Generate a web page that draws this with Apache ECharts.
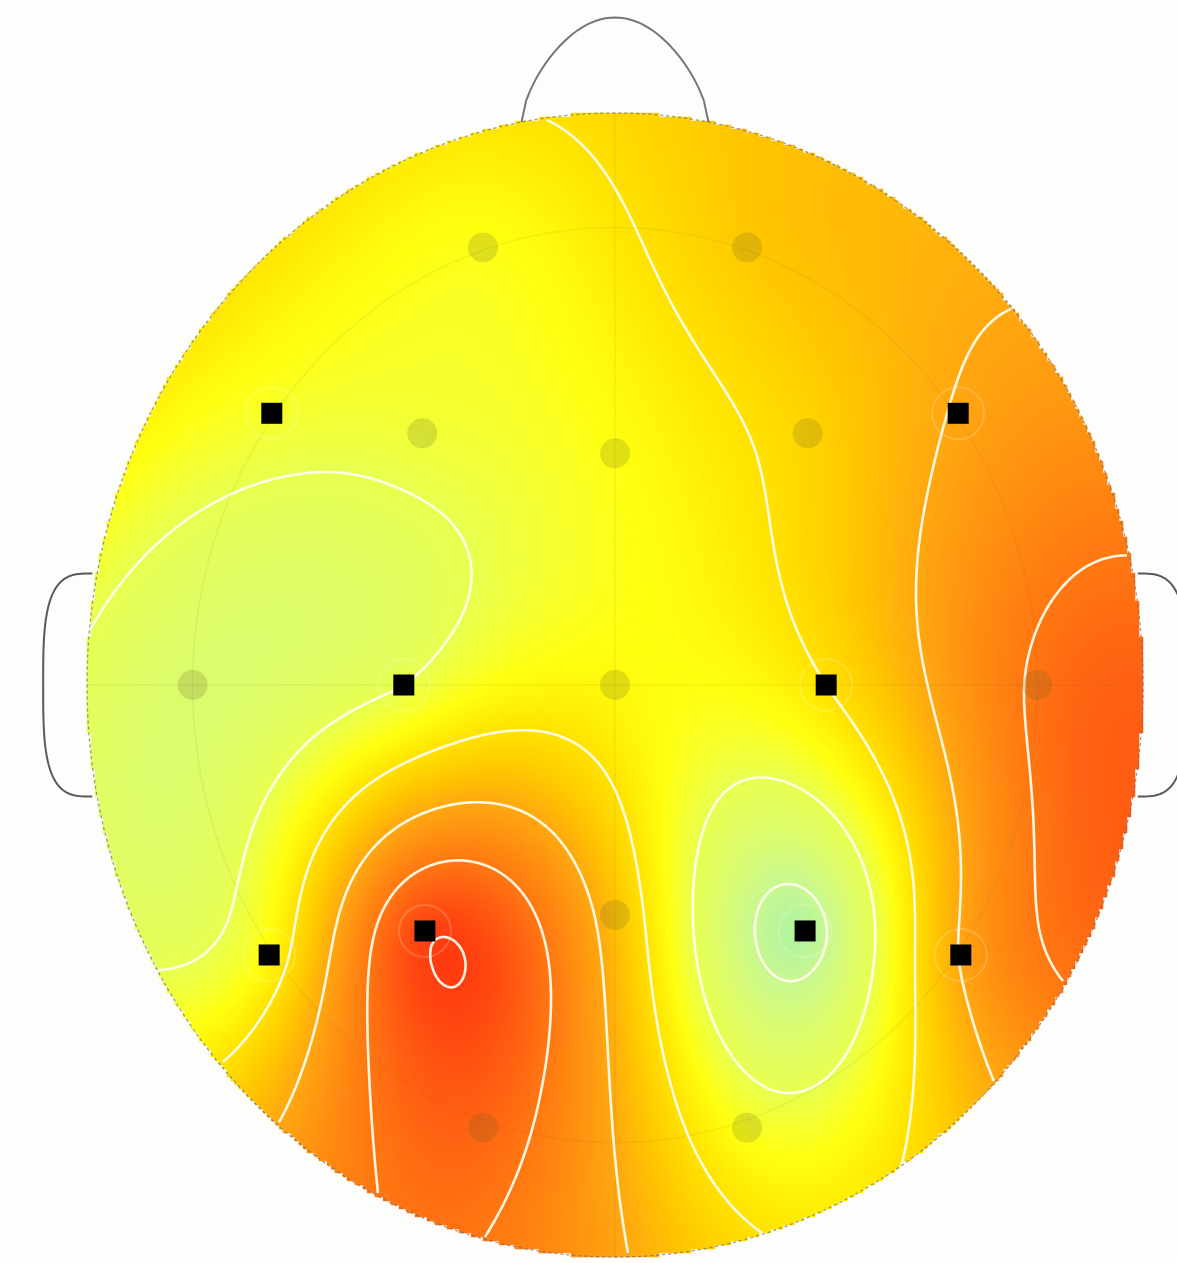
<!DOCTYPE html>
<html>
<head>
<meta charset="utf-8">
<title>EEG topography</title>
<script src="https://cdn.jsdelivr.net/npm/echarts@6/dist/echarts.min.js"></script>
<style>
  html, body { margin: 0; padding: 0; background: #fdfdfb; }
  #main { width: 1177px; height: 1263px; }
</style>
</head>
<body>
<div id="main"></div>
<script>
// 10-20 montage: channel names, projected positions (head radius = 1, nose up)
const channels = ['Fp1', 'Fp2', 'F7', 'F3', 'Fz', 'F4', 'F8', 'T3', 'C3', 'Cz', 'C4', 'T4', 'T5', 'P3', 'Pz', 'P4', 'T6', 'O1', 'O2'];
const posX = [-0.25, 0.25, -0.65, -0.365, 0, 0.365, 0.65, -0.80, -0.40, 0, 0.40, 0.80, -0.655, -0.36, 0, 0.36, 0.655, -0.25, 0.25];
const posY = [0.765, 0.765, 0.475, 0.44, 0.405, 0.44, 0.475, 0, 0, 0, 0, 0, -0.472, -0.43, -0.402, -0.43, -0.472, -0.774, -0.774];
// channel values
const values = [0.45, 1.45, 0.3, 0.2, 0.5, 1.25, 2.05, -0.5, 0.0, 0.6, 1.0, 3.1, 0.6, 3.9, 1.6, -1.25, 2.05, 3.35, 0.4];
// channels flagged as significant (drawn as black squares)
const significant = ['F7', 'F8', 'C3', 'C4', 'T5', 'P3', 'P4', 'T6'];
// isolines
const contourLevels = [-1, 0, 1, 2, 3, 4];
// colour scale, evenly spaced from scaleMin to scaleMax
const scaleMin = -1.5, scaleMax = 4.5;
const palette = ['#a4f0a8', '#c8f890', '#dcfc6c', '#e8ff50', '#ffff10', '#ffe200', '#ffc600',
                 '#ffa810', '#ff9010', '#ff7812', '#ff5c12', '#ff3e10', '#ff2010'];

// ---- layout of the head on the page (pixels) ----
const W = 1177, H = 1263;
const CX = 615, CY = 685, RX = 528, RY = 572;
const xMin = -CX / RX, xMax = (W - CX) / RX;
const yMin = -(H - CY) / RY, yMax = CY / RY;

// ---- biharmonic spline through the channel values ----
const n = channels.length;
function green(d) { return d > 1e-12 ? d * d * (Math.log(d) - 1) : 0; }
const sys = [];
for (let i = 0; i < n; i++) {
  const row = [];
  for (let j = 0; j < n; j++) row.push(green(Math.hypot(posX[i] - posX[j], posY[i] - posY[j])));
  row.push(values[i]);
  sys.push(row);
}
for (let c = 0; c < n; c++) {
  let p = c;
  for (let r = c + 1; r < n; r++) if (Math.abs(sys[r][c]) > Math.abs(sys[p][c])) p = r;
  const tmp = sys[c]; sys[c] = sys[p]; sys[p] = tmp;
  for (let r = 0; r < n; r++) {
    if (r === c) continue;
    const f = sys[r][c] / sys[c][c];
    for (let k = c; k <= n; k++) sys[r][k] -= f * sys[c][k];
  }
}
const weights = sys.map((row, i) => row[n] / row[i]);
function field(x, y) {
  let s = 0;
  for (let k = 0; k < n; k++) s += weights[k] * green(Math.hypot(x - posX[k], y - posY[k]));
  return s;
}

// ---- sample the field on a regular lattice covering the head (4 px cells) ----
const NX = 264, NY = 286;
const dx = 2 / NX, dy = 2 / NY;
const nodes = [];
for (let j = 0; j <= NY; j++) {
  const row = [];
  for (let i = 0; i <= NX; i++) row.push(field(-1 + i * dx, -1 + j * dy));
  nodes.push(row);
}
const colIdx = Array.from({ length: NX }, (_, i) => i);
const rowIdx = Array.from({ length: NY }, (_, j) => j);
const cells = [];
for (let j = 0; j < NY; j++) {
  const y = -1 + (j + 0.5) * dy;
  for (let i = 0; i < NX; i++) {
    const x = -1 + (i + 0.5) * dx;
    if (x * x + y * y > 1) continue;
    let v = (nodes[j][i] + nodes[j][i + 1] + nodes[j + 1][i] + nodes[j + 1][i + 1]) / 4;
    v = Math.max(scaleMin, Math.min(scaleMax, v));
    cells.push([i, j, v]);
  }
}

// ---- isolines by marching squares, stitched into polylines ----
function contourPaths(level) {
  const pts = new Map();
  const adj = new Map();
  function edgePoint(key, xa, ya, va, xb, yb, vb) {
    if (!pts.has(key)) {
      const t = (level - va) / (vb - va);
      pts.set(key, [xa + (xb - xa) * t, ya + (yb - ya) * t]);
    }
    return key;
  }
  function inside(k) { const p = pts.get(k); return p[0] * p[0] + p[1] * p[1] <= 1.0; }
  function link(a, b) {
    if (!inside(a) || !inside(b)) return;
    if (!adj.has(a)) adj.set(a, []);
    if (!adj.has(b)) adj.set(b, []);
    adj.get(a).push(b); adj.get(b).push(a);
  }
  for (let j = 0; j < NY; j++) {
    for (let i = 0; i < NX; i++) {
      const x0 = -1 + i * dx, x1 = x0 + dx, y0 = -1 + j * dy, y1 = y0 + dy;
      const v0 = nodes[j][i], v1 = nodes[j][i + 1], v2 = nodes[j + 1][i + 1], v3 = nodes[j + 1][i];
      const s0 = v0 >= level, s1 = v1 >= level, s2 = v2 >= level, s3 = v3 >= level;
      const k0 = s0 !== s1 ? edgePoint('h' + i + '_' + j, x0, y0, v0, x1, y0, v1) : null;
      const k1 = s1 !== s2 ? edgePoint('v' + (i + 1) + '_' + j, x1, y0, v1, x1, y1, v2) : null;
      const k2 = s3 !== s2 ? edgePoint('h' + i + '_' + (j + 1), x0, y1, v3, x1, y1, v2) : null;
      const k3 = s0 !== s3 ? edgePoint('v' + i + '_' + j, x0, y0, v0, x0, y1, v3) : null;
      const ks = [k0, k1, k2, k3].filter(k => k);
      if (ks.length === 2) link(ks[0], ks[1]);
      else if (ks.length === 4) {
        const sc = (v0 + v1 + v2 + v3) / 4 >= level;
        if (sc === s0) { link(k0, k1); link(k2, k3); }
        else { link(k3, k0); link(k1, k2); }
      }
    }
  }
  const visited = new Set();
  const paths = [];
  function walk(start) {
    const path = [start];
    visited.add(start);
    let prev = null, cur = start;
    for (;;) {
      const nbs = adj.get(cur) || [];
      const nb = nbs.find(k => k !== prev && !visited.has(k));
      if (!nb) {
        if (path.length > 2 && nbs.includes(start)) path.push(start);
        break;
      }
      visited.add(nb); path.push(nb); prev = cur; cur = nb;
    }
    return path.map(k => pts.get(k));
  }
  for (const [k, a] of adj) if (a.length === 1 && !visited.has(k)) paths.push(walk(k));
  for (const k of adj.keys()) if (!visited.has(k)) paths.push(walk(k));
  return paths.filter(p => p.length > 2);
}
const isolines = [];
contourLevels.forEach(lv => contourPaths(lv).forEach(p => isolines.push({ coords: p })));

// ---- head drawing: scalp outline, nose, ears, reference circle ----
function circlePts(r, steps) {
  const out = [];
  for (let s = 0; s <= steps; s++) {
    const t = (s / steps) * Math.PI * 2;
    out.push([r * Math.cos(t), r * Math.sin(t)]);
  }
  return out;
}
const scalp = circlePts(1, 360);
const refCircle = circlePts(0.8, 360);
const nose = [];
for (let s = 0; s <= 40; s++) {
  const u = s / 20 - 1;
  const x = 0.177 * u;
  nose.push([x, Math.sqrt(1 - x * x) + 0.167 * Math.pow(Math.cos(u * Math.PI / 2), 0.6)]);
}
function ear(side) {
  const out = [];
  for (let s = 0; s <= 80; s++) {
    const t = Math.PI / 2 + (s / 80) * Math.PI;
    const c = Math.cos(t), sn = Math.sin(t);
    const ex = -0.99 - 0.093 * Math.pow(Math.abs(c), 0.6);
    const ey = 0.195 * Math.sign(sn) * Math.pow(Math.abs(sn), 0.6);
    out.push([side * ex, ey]);
  }
  return out;
}

const greyDots = [], blackSquares = [];
channels.forEach((c, i) => {
  (significant.includes(c) ? blackSquares : greyDots).push({ name: c, value: [posX[i], posY[i]] });
});

function lineSeries(data, style, z) {
  return {
    type: 'line', xAxisIndex: 1, yAxisIndex: 1, data: data, showSymbol: false, symbol: 'none',
    lineStyle: style, z: z, silent: true, animation: false, clip: false
  };
}

const chart = echarts.init(document.getElementById('main'), null, { renderer: 'canvas' });
chart.setOption({
  animation: false,
  backgroundColor: '#fdfdfb',
  grid: [
    { left: CX - RX, top: CY - RY, width: 2 * RX, height: 2 * RY, containLabel: false },
    { left: 0, top: 0, right: 0, bottom: 0, containLabel: false }
  ],
  xAxis: [
    { type: 'category', gridIndex: 0, data: colIdx, show: false },
    { type: 'value', gridIndex: 1, min: xMin, max: xMax, show: false }
  ],
  yAxis: [
    { type: 'category', gridIndex: 0, data: rowIdx, show: false },
    { type: 'value', gridIndex: 1, min: yMin, max: yMax, show: false }
  ],
  visualMap: {
    type: 'continuous', show: false, seriesIndex: 0, dimension: 2,
    min: scaleMin, max: scaleMax, inRange: { color: palette }
  },
  series: [
    {
      type: 'heatmap', xAxisIndex: 0, yAxisIndex: 0, data: cells,
      progressive: 0, silent: true, emphasis: { disabled: true }, z: 1
    },
    lineSeries(refCircle, { color: 'rgba(90,90,40,0.08)', width: 1.5 }, 2),
    lineSeries([[-1, 0], [1, 0]], { color: 'rgba(90,90,40,0.08)', width: 1.5 }, 2),
    lineSeries([[0, -1], [0, 1]], { color: 'rgba(90,90,40,0.08)', width: 1.5 }, 2),
    {
      type: 'lines', coordinateSystem: 'cartesian2d', xAxisIndex: 1, yAxisIndex: 1,
      polyline: true, data: isolines, silent: true, z: 4,
      lineStyle: { color: '#fffcec', width: 2.6, opacity: 0.95 }
    },
    lineSeries(scalp, { color: 'rgba(110,110,110,0.7)', width: 1.3, type: [3, 3] }, 5),
    lineSeries(nose, { color: '#777777', width: 2 }, 5),
    lineSeries(ear(1), { color: '#5a5a5a', width: 2 }, 5),
    lineSeries(ear(-1), { color: '#5a5a5a', width: 2 }, 5),
    {
      type: 'scatter', xAxisIndex: 1, yAxisIndex: 1, data: greyDots, symbol: 'circle', symbolSize: 30,
      itemStyle: { color: 'rgba(100,100,40,0.2)', opacity: 1 }, silent: true, z: 6
    },
    {
      type: 'scatter', xAxisIndex: 1, yAxisIndex: 1, data: blackSquares, symbol: 'circle', symbolSize: 52,
      itemStyle: { color: 'rgba(0,0,0,0)', borderColor: 'rgba(255,255,255,0.18)', borderWidth: 2, opacity: 1 },
      silent: true, z: 6
    },
    {
      type: 'scatter', xAxisIndex: 1, yAxisIndex: 1, data: blackSquares, symbol: 'rect', symbolSize: 21,
      itemStyle: { color: '#000000', opacity: 1 }, silent: true, z: 7
    }
  ]
});
</script>
</body>
</html>
